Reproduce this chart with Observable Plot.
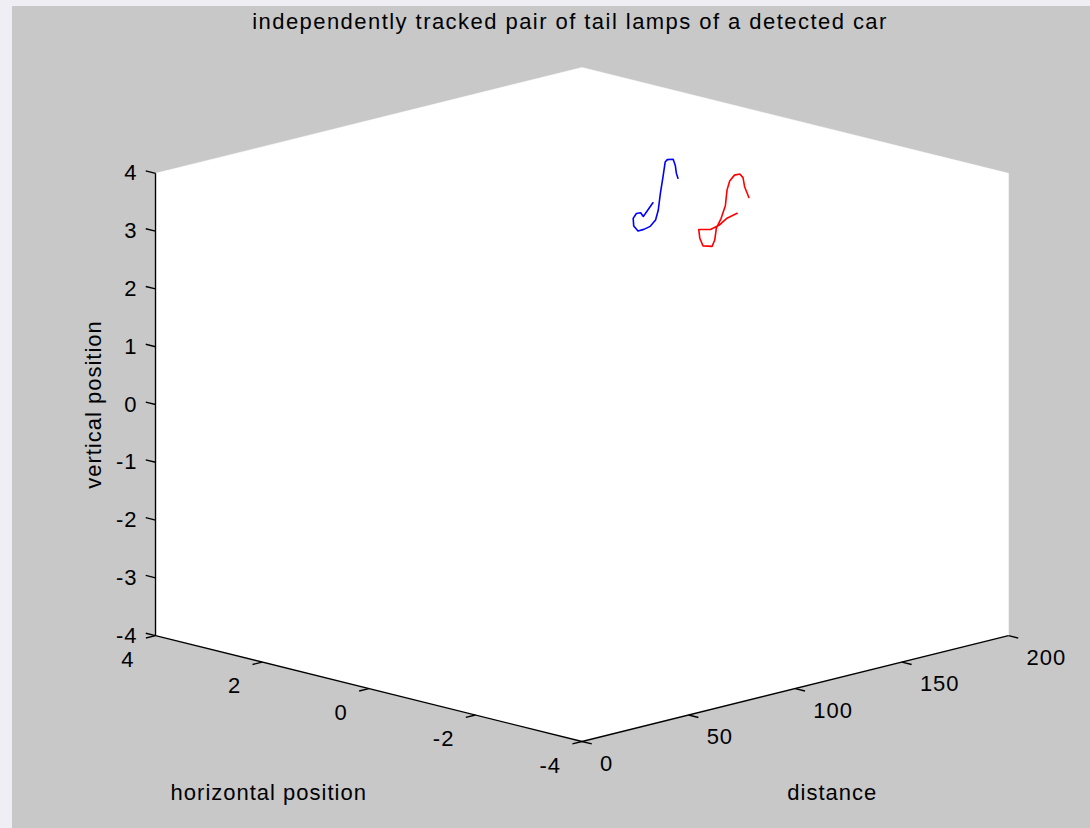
<!DOCTYPE html>
<html><head><meta charset="utf-8">
<script src="https://cdn.jsdelivr.net/npm/d3@7"></script>
<script src="https://cdn.jsdelivr.net/npm/@observablehq/plot@0.6"></script>
<style>
body{margin:0;background:#eeeef4;}
#fig{position:relative;width:1090px;height:828px;overflow:hidden;}
#bg{position:absolute;left:12px;top:6px;right:0;bottom:0;background:#c8c8c8;}
#title{position:absolute;left:170px;width:800px;top:9px;text-align:center;font:22px "Liberation Sans",Arial,sans-serif;letter-spacing:1.45px;color:#000;white-space:nowrap;}
#chart{position:absolute;left:0;top:0;}
</style></head><body>
<div id="fig"><div id="bg"></div><div id="title">independently tracked pair of tail lamps of a detected car</div><div id="chart"></div></div>
<script>
// axis limits and ticks
const horizontalLimits = [-4, 4];
const distanceLimits = [0, 200];
const verticalLimits = [-4, 4];
const horizontalTicks = [-4, -2, 0, 2, 4];
const distanceTicks = [0, 50, 100, 150, 200];
const verticalTicks = [-4, -3, -2, -1, 0, 1, 2, 3, 4];

// blue lamp track
const blueDistance   = [156, 155, 154, 154, 153, 152, 151, 150, 150, 149, 148, 147, 146, 146, 145, 144, 143, 143, 142];
const blueHorizontal = [0.91, 1.05, 1.06, 1.14, 1.16, 1.11, 0.99, 0.84, 0.72, 0.58, 0.49, 0.41, 0.32, 0.28, 0.20, 0.05, -0.03, -0.05, -0.12];
const blueVertical   = [2.77, 2.51, 2.58, 2.55, 2.47, 2.36, 2.31, 2.38, 2.46, 2.61, 2.81, 3.13, 3.45, 3.71, 3.78, 3.83, 3.75, 3.62, 3.56];

// red lamp track
const redDistance   = [156, 155, 154, 153, 153, 152, 151, 150, 150, 149, 148, 147, 146, 146, 145, 144, 143, 143, 142];
const redHorizontal = [-0.67, -0.52, -0.41, -0.29, -0.07, -0.13, -0.23, -0.44, -0.49, -0.56, -0.69, -0.81, -0.88, -0.93, -1.06, -1.20, -1.30, -1.33, -1.45];
const redVertical   = [2.95, 2.84, 2.70, 2.61, 2.56, 2.43, 2.33, 2.38, 2.50, 2.73, 2.94, 3.20, 3.49, 3.66, 3.80, 3.86, 3.83, 3.68, 3.53];

// 3-D view projection (box normalised to a unit cube)
const RISE = 0.229;
function proj(h, d, z) {
  const a = (h - horizontalLimits[0]) / (horizontalLimits[1] - horizontalLimits[0]);
  const b = (d - distanceLimits[0]) / (distanceLimits[1] - distanceLimits[0]);
  const c = (z - verticalLimits[0]) / (verticalLimits[1] - verticalLimits[0]);
  return {u: b - a, v: c + RISE * (a + b)};
}
const [h0, h1] = horizontalLimits, [d0, d1] = distanceLimits, [z0, z1] = verticalLimits;

const track = (D, H, Z) => D.map((d, i) => proj(H[i], d, Z[i]));
const blue = track(blueDistance, blueHorizontal, blueVertical);
const red = track(redDistance, redHorizontal, redVertical);

// white back panes (silhouette of the box)
const pane = [[h1,d0,z0],[h0,d0,z0],[h0,d1,z0],[h0,d1,z1],[h1,d1,z1],[h1,d0,z1]].map(p => proj(...p));

// axis lines
const seg = (p, q) => { const A = proj(...p), B = proj(...q); return {x1: A.u, y1: A.v, x2: B.u, y2: B.v}; };
const axes = [
  seg([h1,d0,z0],[h0,d0,z0]),
  seg([h0,d0,z0],[h0,d1,z0]),
  seg([h1,d0,z0],[h1,d0,z1])
];
const tH = 0.183, tD = 4.5; // tick lengths in data units
const ticks = [
  ...horizontalTicks.map(h => seg([h,d0,z0],[h,d0 - tD,z0])),
  ...distanceTicks.map(d => seg([h0,d,z0],[h0 - tH,d,z0])),
  ...verticalTicks.map(z => seg([h1,d0,z],[h1 + tH,d0,z]))
];
const hLab = horizontalTicks.map(h => ({...proj(h,d0,z0), t: String(h)}));
const dLab = distanceTicks.map(d => ({...proj(h0,d,z0), t: String(d)}));
const zLab = verticalTicks.map(z => ({...proj(h1,d0,z), t: String(z)}));

const font = {fontSize: 22, fill: "#000"};
const plot = Plot.plot({
  width: 1090, height: 828,
  marginLeft: 155, marginRight: 82, marginTop: 67, marginBottom: 87,
  x: {domain: [-1, 1], axis: null},
  y: {domain: [0, 1 + 2 * RISE], axis: null},
  style: {background: "transparent", fontFamily: "'Liberation Sans', Arial, sans-serif", fontSize: "22px", letterSpacing: "1px", overflow: "visible"},
  marks: [
    Plot.line(pane, {x: "u", y: "v", fill: "white", stroke: "white", strokeWidth: 0.5, curve: "linear-closed"}),
    Plot.link(axes, {x1: "x1", y1: "y1", x2: "x2", y2: "y2", stroke: "#000", strokeWidth: 1.4}),
    Plot.link(ticks, {x1: "x1", y1: "y1", x2: "x2", y2: "y2", stroke: "#000", strokeWidth: 1.4}),
    Plot.line(blue, {x: "u", y: "v", stroke: "#0000ff", strokeWidth: 1.6}),
    Plot.line(red, {x: "u", y: "v", stroke: "#ff0000", strokeWidth: 1.6}),
    Plot.text(zLab, {x: "u", y: "v", text: "t", textAnchor: "end", dx: -18, dy: 0, ...font}),
    Plot.text(hLab, {x: "u", y: "v", text: "t", textAnchor: "end", dx: -21, dy: 24, ...font}),
    Plot.text(dLab, {x: "u", y: "v", text: "t", textAnchor: "start", dx: 18, dy: 22, ...font}),
    Plot.text([proj(0, d0, z0)], {x: "u", y: "v", text: () => "horizontal position", dx: -100, dy: 104, ...font}),
    Plot.text([proj(h0, 100, z0)], {x: "u", y: "v", text: () => "distance", dx: 37, dy: 104, ...font}),
    Plot.text([proj(h1, d0, 0)], {x: "u", y: "v", text: () => "vertical position", rotate: -90, dx: -62, ...font})
  ]
});
document.getElementById("chart").appendChild(plot);
</script>
</body></html>
